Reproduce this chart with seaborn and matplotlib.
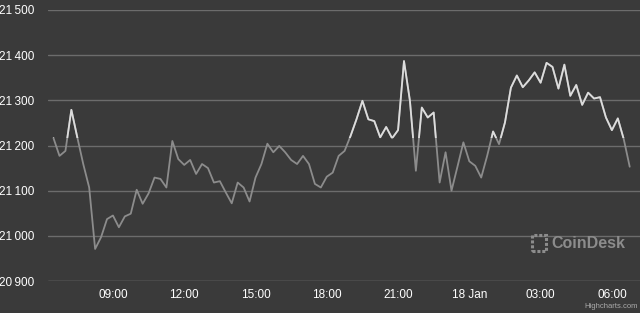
import numpy as np
import pandas as pd
import matplotlib
matplotlib.use("Agg")
import matplotlib.pyplot as plt
from matplotlib.patches import Rectangle
import seaborn as sns

# ---- data (BTC price, 15-minute steps, 17 Jan 06:30 -> 18 Jan 06:45) ----
start_time = "2023-01-17 06:30"
step = "15min"
prices = [
    21216, 21177, 21188, 21279, 21218, 21159, 21107, 20971, 20997, 21037,
    21045, 21019, 21043, 21049, 21102, 21071, 21094, 21129, 21126,
    21107, 21210, 21170, 21157, 21168, 21137, 21159, 21150, 21118, 21121,
    21096, 21072, 21118, 21107, 21076, 21129, 21159, 21204, 21185, 21199,
    21185, 21168, 21159, 21177, 21159, 21115, 21107, 21131, 21140, 21177,
    21188, 21221, 21258, 21299, 21258, 21254, 21218, 21241, 21216,
    21234, 21387, 21299, 21144, 21284, 21262, 21273, 21118, 21185, 21100,
    21153, 21207, 21165, 21155, 21129, 21177, 21231, 21203, 21251, 21328,
    21355, 21329, 21344, 21362, 21339, 21383, 21374, 21326, 21379, 21310,
    21334, 21290, 21317, 21304, 21307, 21262, 21234, 21260, 21214, 21153,
]
y_ticks = [20900, 21000, 21100, 21200, 21300, 21400, 21500]
y_tick_labels = ["20\u2009900", "21\u2009000", "21\u2009100", "21\u2009200",
                 "21\u2009300", "21\u2009400", "21\u2009500"]
x_ticks = ["2023-01-17 09:00", "2023-01-17 12:00", "2023-01-17 15:00", "2023-01-17 18:00",
           "2023-01-17 21:00", "2023-01-18 00:00", "2023-01-18 03:00", "2023-01-18 06:00"]
x_tick_labels = ["09:00", "12:00", "15:00", "18:00", "21:00", "18 Jan", "03:00", "06:00"]
x_limits = ["2023-01-17 06:16", "2023-01-18 07:11"]

df = pd.DataFrame({
    "time": pd.date_range(start_time, periods=len(prices), freq=step),
    "price": prices,
})
open_price = prices[0]

BG = "#3a3a3a"
sns.set_theme(style="dark")
plt.rcParams["font.family"] = ["Liberation Sans", "DejaVu Sans"]

fig = plt.figure(figsize=(6.4, 3.13), dpi=100, facecolor=BG)
ax = fig.add_axes([48 / 640, 32 / 313, 592 / 640, 271 / 313])
ax.set_facecolor(BG)

for v in y_ticks:
    ax.axhline(v, color="#6c6c6c" if v != y_ticks[0] else "#8a8a8a", lw=1.0, zorder=1)

# below-open part (grey)
sns.lineplot(data=df, x="time", y="price", ax=ax, color="#8c8c8c", lw=1.3, zorder=3)
# above-open part (white), clipped to the region above the opening price
sns.lineplot(data=df, x="time", y="price", ax=ax, color="#dcdcdc", lw=1.3, zorder=4)
white_line = ax.lines[-1]
clip = Rectangle((0, open_price), 1, y_ticks[-1] - open_price + 100,
                 transform=ax.get_yaxis_transform(), facecolor="none", edgecolor="none")
ax.add_patch(clip)
white_line.set_clip_path(clip)

ax.set_ylim(y_ticks[0], y_ticks[-1])
ax.set_xlim(pd.to_datetime(x_limits[0]), pd.to_datetime(x_limits[1]))
ax.set_yticks(y_ticks)
ax.set_yticklabels(y_tick_labels)
ax.set_xticks(pd.to_datetime(x_ticks))
ax.set_xticklabels(x_tick_labels)
ax.tick_params(axis="both", length=0, colors="white", labelsize=8.5)
ax.tick_params(axis="y", pad=10)
ax.tick_params(axis="x", pad=6)
ax.set_xlabel("")
ax.set_ylabel("")
ax.grid(False)
for s in ax.spines.values():
    s.set_visible(False)

# watermark
ax.text(0.975, 0.14, "CoinDesk", transform=ax.transAxes, ha="right", va="center",
        fontsize=11.5, fontweight="bold", color="#8c8c8c", zorder=2)
ax.add_patch(Rectangle((0.817, 0.11), 0.025, 0.058, transform=ax.transAxes,
                       facecolor="none", edgecolor="#8c8c8c", lw=2.2, ls=(0, (1.0, 0.6)), zorder=2))
fig.text(0.997, 0.008, "Highcharts.com", ha="right", va="bottom", fontsize=5.5, color="#aaaaaa")

fig.savefig("out.png", dpi=100, facecolor=BG)
